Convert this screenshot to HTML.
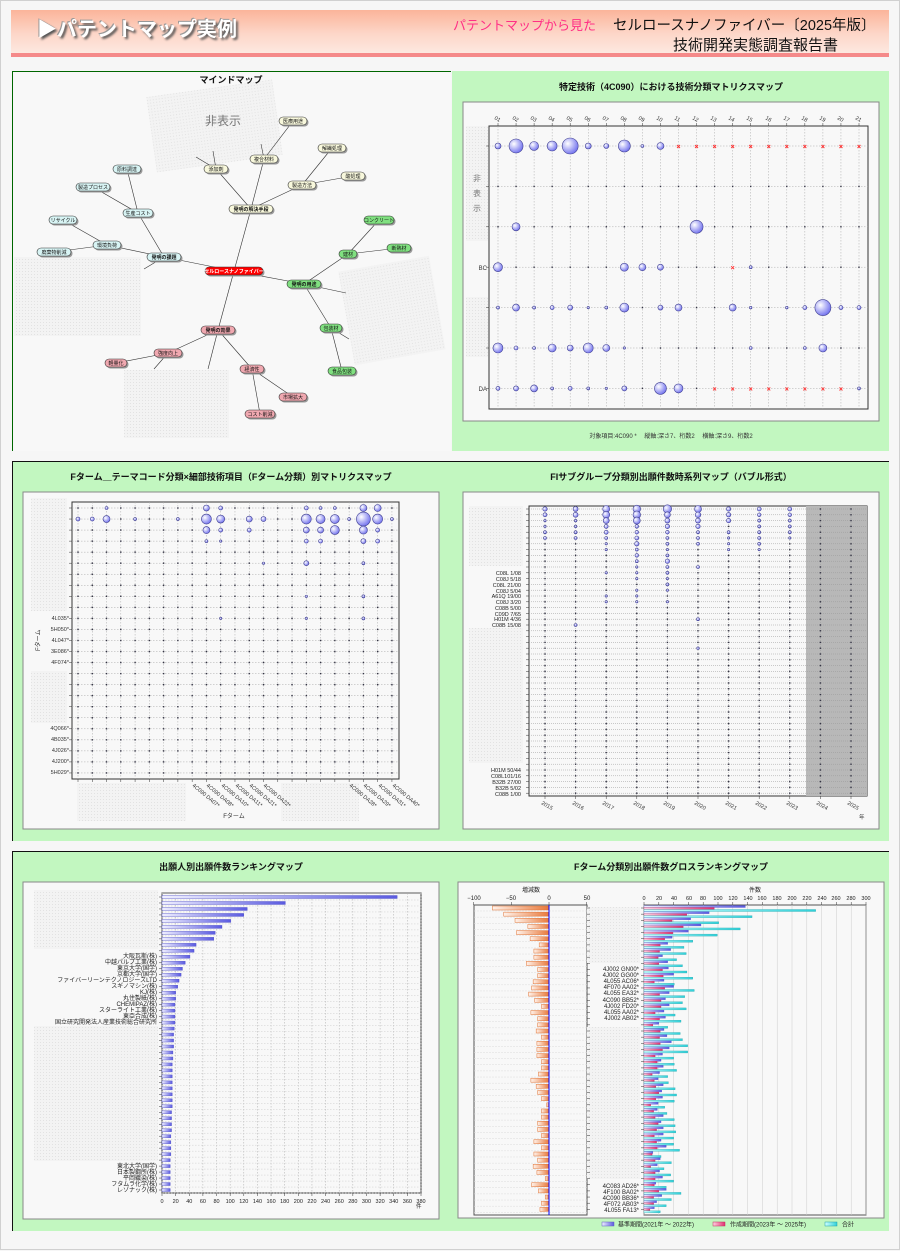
<!DOCTYPE html>
<html><head><meta charset="utf-8">
<style>
*{margin:0;padding:0;box-sizing:border-box}
body{width:900px;height:1250px;background:#f6f6f6;position:relative;overflow:hidden;font-family:"Liberation Sans","Noto Sans CJK JP",sans-serif;border:1px solid #d0d0d0}
.hdr{position:absolute;left:10px;top:9px;width:878px;height:43px;background:linear-gradient(#fbb49a,#fdd6c8 55%,#fde8e0);box-shadow:0 4px 0 #f58a8a}
.p{position:absolute;background:#c2f7c0}
svg{position:absolute;left:0;top:0}
</style></head><body>
<div class="hdr"></div>
<div style="position:absolute;left:36px;top:12px;font-size:20px;font-weight:bold;color:#fff;text-shadow:2px 2px 2px #555,-1px -1px 0 #999;white-space:nowrap">▶パテントマップ実例</div>
<div style="position:absolute;left:452px;top:14px;font-size:13px;color:#ff2f86;white-space:nowrap">パテントマップから見た</div>
<div style="position:absolute;left:612px;top:13px;font-size:14.5px;color:#111;white-space:nowrap">セルロースナノファイバー〔2025年版〕</div>
<div style="position:absolute;left:672px;top:33px;font-size:15px;color:#111;white-space:nowrap">技術開発実態調査報告書</div>

<div class="p" style="left:11px;top:70px;width:439px;height:380px;background:#f8f8f8;border-left:1px solid #006600;border-top:1px solid #006600"></div>
<div class="p" style="left:451px;top:70px;width:437px;height:380px"></div>
<div class="p" style="left:11px;top:460px;width:439px;height:380px;border-left:1px solid #111;border-top:1px solid #111"></div>
<div class="p" style="left:450px;top:460px;width:438px;height:380px;border-top:1px solid #111"></div>
<div class="p" style="left:11px;top:850px;width:439px;height:380px;border-left:1px solid #111;border-top:1px solid #111"></div>
<div class="p" style="left:450px;top:850px;width:438px;height:380px;border-top:1px solid #111"></div>

<svg id="s" width="900" height="1250" viewBox="0 0 900 1250" font-family="Liberation Sans, Noto Sans CJK JP, sans-serif">
<defs>
<radialGradient id="bg" cx="35%" cy="35%" r="70%"><stop offset="0" stop-color="#fff"/><stop offset="1" stop-color="#7070ee"/></radialGradient>
<linearGradient id="bb" x1="0" x2="1"><stop offset="0" stop-color="#f0f0ff"/><stop offset="1" stop-color="#5a5ae0"/></linearGradient>
<linearGradient id="ob" x1="1" x2="0"><stop offset="0" stop-color="#e8783a"/><stop offset="1" stop-color="#fff2ea"/></linearGradient>
<linearGradient id="pb" x1="0" x2="1"><stop offset="0" stop-color="#ffd0e0"/><stop offset="1" stop-color="#e03070"/></linearGradient>
<linearGradient id="cb" x1="0" x2="1"><stop offset="0" stop-color="#d0ffff"/><stop offset="1" stop-color="#30d0d8"/></linearGradient>
<pattern id="ht" width="3" height="3" patternUnits="userSpaceOnUse"><rect width="3" height="3" fill="#f3f3f3"/><rect width="1" height="1" fill="#e2e2e2"/></pattern>
</defs>
<g id="g"></g>
<g font-weight="bold" font-size="9" text-anchor="middle" fill="#111">
<text x="230" y="82">マインドマップ</text>
<text x="670" y="89">特定技術（4C090）における技術分類マトリクスマップ</text>
<text x="230" y="479">Fターム＿テーマコード分類×細部技術項目（Fターム分類）別マトリクスマップ</text>
<text x="670" y="479">FIサブグループ分類別出願件数時系列マップ（バブル形式）</text>
<text x="230" y="869">出願人別出願件数ランキングマップ</text>
<text x="670" y="869">Fターム分類別出願件数グロスランキングマップ</text>
</g>
<text x="670" y="437" font-size="6" text-anchor="middle" fill="#333">対象項目:4C090 *　 縦軸:深さ7、桁数2　 横軸:深さ9、桁数2</text>
<text x="222" y="124" font-size="12" text-anchor="middle" fill="#777">非表示</text>
<g font-size="8" fill="#777" text-anchor="middle"><text x="476" y="180">非</text><text x="476" y="195">表</text><text x="476" y="210">示</text></g>
<g font-size="6" fill="#333" text-anchor="end"><text x="486" y="269">BC</text><text x="486" y="390">DA</text></g>
<g font-size="5.5" fill="#333">
<text transform="translate(493,118) rotate(30)">01</text><text transform="translate(511,118) rotate(30)">02</text><text transform="translate(529,118) rotate(30)">03</text><text transform="translate(547,118) rotate(30)">04</text><text transform="translate(565,118) rotate(30)">05</text><text transform="translate(583,118) rotate(30)">06</text><text transform="translate(601,118) rotate(30)">07</text><text transform="translate(619,118) rotate(30)">08</text><text transform="translate(637,118) rotate(30)">09</text><text transform="translate(655,118) rotate(30)">10</text><text transform="translate(673,118) rotate(30)">11</text><text transform="translate(691,118) rotate(30)">12</text><text transform="translate(709,118) rotate(30)">13</text><text transform="translate(727,118) rotate(30)">14</text><text transform="translate(745,118) rotate(30)">15</text><text transform="translate(764,118) rotate(30)">16</text><text transform="translate(782,118) rotate(30)">17</text><text transform="translate(800,118) rotate(30)">18</text><text transform="translate(818,118) rotate(30)">19</text><text transform="translate(836,118) rotate(30)">20</text><text transform="translate(854,118) rotate(30)">21</text>
</g>
<g font-size="5.5" fill="#333" text-anchor="end">
<text x="68" y="619">4L035*</text><text x="68" y="630">5H050*</text><text x="68" y="641">4L047*</text><text x="68" y="652">3E086*</text><text x="68" y="663">4F074*</text>
<text x="68" y="729">4Q066*</text><text x="68" y="740">4B035*</text><text x="68" y="751">4J026*</text><text x="68" y="762">4J200*</text><text x="68" y="773">5H029*</text>
</g>
<text transform="translate(39,650) rotate(-90)" font-size="6" fill="#333">Fターム</text>
<text x="233" y="817" font-size="6" fill="#333" text-anchor="middle">Fターム</text>
<g font-size="5.5" fill="#333">
<text transform="translate(191,785) rotate(40)">4C090 DA07*</text><text transform="translate(205,785) rotate(40)">4C090 DA08*</text><text transform="translate(220,785) rotate(40)">4C090 DA10*</text><text transform="translate(234,785) rotate(40)">4C090 DA11*</text><text transform="translate(248,785) rotate(40)">4C090 DA21*</text><text transform="translate(262,785) rotate(40)">4C090 DA22*</text>
<text transform="translate(348,785) rotate(40)">4C090 DA28*</text><text transform="translate(362,785) rotate(40)">4C090 DA29*</text><text transform="translate(377,785) rotate(40)">4C090 DA31*</text><text transform="translate(391,785) rotate(40)">4C090 DA40*</text>
</g>
<g font-size="5.5" fill="#222" text-anchor="end">
<text x="520" y="574">C08L  1/08</text><text x="520" y="580">C08J  5/18</text><text x="520" y="586">C08L 21/00</text><text x="520" y="592">C08J  5/04</text><text x="520" y="597">A61Q 19/00</text><text x="520" y="603">C08J  3/20</text><text x="520" y="609">C08B  5/00</text><text x="520" y="615">C09D  7/65</text><text x="520" y="620">H01M  4/36</text><text x="520" y="626">C08B 15/08</text>
<text x="520" y="771">H01M 50/44</text><text x="520" y="777">C08L101/16</text><text x="520" y="783">B32B 27/00</text><text x="520" y="789">B32B  5/02</text><text x="520" y="795">C08B  1/00</text>
</g>
<g font-size="5.5" fill="#333">
<text transform="translate(540,803) rotate(30)">2015</text><text transform="translate(571,803) rotate(30)">2016</text><text transform="translate(601,803) rotate(30)">2017</text><text transform="translate(632,803) rotate(30)">2018</text><text transform="translate(662,803) rotate(30)">2019</text><text transform="translate(693,803) rotate(30)">2020</text><text transform="translate(724,803) rotate(30)">2021</text><text transform="translate(754,803) rotate(30)">2022</text><text transform="translate(785,803) rotate(30)">2023</text><text transform="translate(815,803) rotate(30)">2024</text><text transform="translate(846,803) rotate(30)">2025</text>
<text x="858" y="818">年</text>
</g>
<g font-size="6" fill="#222" text-anchor="end">
<text x="156" y="957">大阪瓦斯(株)</text><text x="156" y="963">中越パルプ工業(株)</text><text x="156" y="969">東京大学(国学)</text><text x="156" y="975">京都大学(国学)</text><text x="156" y="981">ファイバーリーンテクノロジーズLTD</text><text x="156" y="987">スギノマシン(株)</text><text x="156" y="993">KJ(株)</text><text x="156" y="999">丸住製紙(株)</text><text x="156" y="1005">CHEMIPAZ(株)</text><text x="156" y="1011">スターライト工業(株)</text><text x="156" y="1017">東亞合成(株)</text><text x="156" y="1023">国立研究開発法人産業技術総合研究所</text>
<text x="156" y="1167">東北大学(国学)</text><text x="156" y="1173">日本製鋼所(株)</text><text x="156" y="1179">平岡織染(株)</text><text x="156" y="1185">フタムラ化学(株)</text><text x="156" y="1191">レゾナック(株)</text>
</g>
<g font-size="5.5" fill="#222" text-anchor="middle" id="lx"></g>
<text x="415" y="1207" font-size="5.5" fill="#222">件</text>
<text x="530" y="891" font-size="6" fill="#222" text-anchor="middle">増減数</text>
<text x="754" y="891" font-size="6" fill="#222" text-anchor="middle">件数</text>
<g font-size="6" fill="#222" text-anchor="middle">
<text x="473" y="899">−100</text><text x="510" y="899">−50</text><text x="548" y="899">0</text><text x="586" y="899">50</text>
</g>
<g font-size="5.5" fill="#222" text-anchor="middle">
<text x="643" y="899">0</text><text x="658" y="899">20</text><text x="673" y="899">40</text><text x="688" y="899">60</text><text x="702" y="899">80</text><text x="717" y="899">100</text><text x="732" y="899">120</text><text x="747" y="899">140</text><text x="761" y="899">160</text><text x="776" y="899">180</text><text x="791" y="899">200</text><text x="806" y="899">220</text><text x="821" y="899">240</text><text x="835" y="899">260</text><text x="850" y="899">280</text><text x="865" y="899">300</text>
</g>
<g font-size="6" fill="#222" text-anchor="end">
<text x="638" y="970">4J002 GN00*</text><text x="638" y="976">4J002 GG00*</text><text x="638" y="982">4L055 AC06*</text><text x="638" y="988">4F070 AA02*</text><text x="638" y="994">4L055 EA32*</text><text x="638" y="1001">4C090 BB52*</text><text x="638" y="1007">4J002 FD20*</text><text x="638" y="1013">4L055 AA02*</text><text x="638" y="1019">4J002 AB02*</text>
<text x="638" y="1187">4C083 AD26*</text><text x="638" y="1193">4F100 BA02*</text><text x="638" y="1199">4C090 BB36*</text><text x="638" y="1205">4F072 AB03*</text><text x="638" y="1211">4L055 FA13*</text>
</g>
<g font-size="6" fill="#222">
<rect x="601" y="1221" width="12" height="4" fill="url(#bb)" stroke="#6060c0" stroke-width=".5"/><text x="617" y="1225.5">基準期間(2021年 ～ 2022年)</text>
<rect x="712" y="1221" width="12" height="4" fill="url(#pb)" stroke="#c03060" stroke-width=".5"/><text x="729" y="1225.5">作成期間(2023年 ～ 2025年)</text>
<rect x="824" y="1221" width="12" height="4" fill="url(#cb)" stroke="#20a0a8" stroke-width=".5"/><text x="841" y="1225.5">合計</text>
</g>
<g id="mm" font-size="5" text-anchor="middle"></g>
</svg>
<script>
var NS="http://www.w3.org/2000/svg",G=document.getElementById("g");
function E(t,a,p){var e=document.createElementNS(NS,t);for(var k in a)e.setAttribute(k,a[k]);(p||G).appendChild(e);return e}
function R(x,y,w,h,f,s,sw){return E("rect",{x:x,y:y,width:w,height:h,fill:f||"none",stroke:s||"none","stroke-width":sw||1})}
function L(x1,y1,x2,y2,s,d,sw){return E("line",{x1:x1,y1:y1,x2:x2,y2:y2,stroke:s||"#bbb","stroke-width":sw||.5,"stroke-dasharray":d||""})}
function B(x,y,r){if(r<1){R(x-.7,y-.7,1.4,1.4,"#334");return}E("circle",{cx:x,cy:y,r:r,fill:"url(#bg)",stroke:"#404090","stroke-width":.6})}
function X(x,y){L(x-1.5,y-1,x+1.5,y+2,"#f33","",.9);L(x+1.5,y-1,x-1.5,y+2,"#f33","",.9)}

R(150,87,127,76,"url(#ht)").setAttribute("transform","rotate(-8 213 125)");
R(13,256,127,79,"url(#ht)");R(345,262,92,95,"url(#ht)").setAttribute("transform","rotate(-10 391 310)");R(123,369,105,68,"url(#ht)");
var N={c:[233,270,"セルロースナノファイバー","#f00",58,"#fff"],k:[163,256,"発明の課題","#d8f4f4",34],s:[250,208,"発明の解決手段","#f8f8dc",44],y:[303,283,"発明の用途","#80e080",34],e:[217,329,"発明の効果","#f0a8b0",34],
a1:[106,244,"環境負荷","#d8f4f4",28],a2:[137,212,"生産コスト","#d8f4f4",30],a3:[62,219,"リサイクル","#d8f4f4",28],a4:[53,251,"廃棄物削減","#d8f4f4",34],a5:[126,168,"原料調達","#d8f4f4",28],a6:[92,186,"製造プロセス","#d8f4f4",34],
b1:[215,168,"添加剤","#f8f8dc",24],b2:[263,158,"複合材料","#f8f8dc",28],b3:[301,184,"製造方法","#f8f8dc",28],b4:[292,120,"医療用途","#f8f8dc",28],b5:[331,147,"解繊処理","#f8f8dc",28],b6:[352,175,"酸処理","#f8f8dc",24],
c1:[347,253,"建材","#80e080",18],c2:[330,327,"包装材","#80e080",22],c3:[378,219,"コンクリート","#80e080",30],c4:[398,247,"断熱材","#80e080",24],c5:[341,370,"食品包装","#80e080",28],
d1:[167,352,"強度向上","#f0a8b0",28],d2:[251,368,"経済性","#f0a8b0",24],d3:[115,362,"軽量化","#f0a8b0",22],d4:[292,396,"市場拡大","#f0a8b0",28],d5:[259,413,"コスト削減","#f0a8b0",30]};
var ED=[["c","k"],["c","s"],["c","y"],["c","e"],["k","a1"],["k","a2"],["a1","a3"],["a1","a4"],["a2","a5"],["a2","a6"],["s","b1"],["s","b2"],["s","b3"],["b2","b4"],["b3","b5"],["b3","b6"],["y","c1"],["y","c2"],["c1","c3"],["c1","c4"],["c2","c5"],["e","d1"],["e","d2"],["d1","d3"],["d2","d4"],["d2","d5"]];
ED.forEach(function(p){var a=N[p[0]],b=N[p[1]];L(a[0],a[1],b[0],b[1],"#333","",.6)});
[[163,256,143,268],[215,168,195,156],[215,168,212,150],[263,158,260,143],[303,283,345,292],[330,327,348,338],[217,329,207,368],[167,352,153,368]].forEach(function(l){L(l[0],l[1],l[2],l[3],"#333","",.6)});
var MM=document.getElementById("mm");
for(var k in N){var n=N[k],w=n[4],x=n[0]-w/2,y=n[1]-4;
E("rect",{x:x+1.5,y:y+1.5,width:w,height:8,rx:4,fill:"#999"},MM);
E("rect",{x:x,y:y,width:w,height:8,rx:4,fill:n[3],stroke:"#333","stroke-width":.6},MM);
var t=E("text",{x:n[0],y:n[1]+1.8,fill:n[5]||"#111","font-weight":k.length==1?"bold":"normal"},MM);t.textContent=n[2];}

R(462,101,416,319,"#f8f8f8","#888");R(488,125,379,283,"#f8f8f8","#333",1);
R(465,125,22,115,"url(#ht)");R(465,296,22,60,"url(#ht)");
var cx=function(i){return 497+i*18.05},ry=function(j){return 145+j*40.4};
for(var i=0;i<21;i++){L(cx(i),125,cx(i),408,"#aaa","1.5,1.5");L(cx(i),122,cx(i),125,"#333")}
for(var j=0;j<7;j++){L(488,ry(j),867,ry(j),"#aaa","1.5,1.5");L(485,ry(j),488,ry(j),"#333")}
var TR=[[3,7,4.5,5,8,3,2.5,6,1.5,3.5,-1,-1,-1,-1,-1,-1,-1,-1,-1,-1,-1],
[0,0,0,0,0,0,0,0,0,0,0,0,0,0,0,0,0,0,0,0,0],
[0,4,0,0,0,0,0,0,0,0,0,6.5,0,0,0,0,0,0,0,0,0],
[4.5,0,0,0,0,0,0,4,3.5,3,0,0,0,-1,1.5,0,0,0,0,0,0],
[1.5,3.5,1.5,2,2.5,1.2,1.5,4.5,0,2.5,3.5,0,0,3.5,1.3,0,1.3,2,8,2,2],
[5,2,1.5,4,3,5,3.5,1.2,0,0,0,0,0,0,1.5,0,0,1.5,4,0,0],
[2,2.5,3.5,1.5,2,1.5,1.2,2.5,0,6,4.5,0,-1,-1,-1,-1,-1,-1,-1,-1,1.5]];
TR.forEach(function(r,j){r.forEach(function(v,i){if(v<0)X(cx(i),ry(j));else B(cx(i),ry(j),v)})});

R(22,491,416,337,"#f8f8f8","#888");R(71,501,327,277,"#f8f8f8","#333");
R(30,497,36,113,"url(#ht)");R(30,670,36,52,"url(#ht)");R(76,782,109,38,"url(#ht)");R(280,782,78,38,"url(#ht)");
var fx=function(i){return 77+i*14.27},fy=function(j){return 507+j*11.04};
for(var i=0;i<23;i++){L(fx(i),501,fx(i),778,"#aaa","1.5,1.5");L(fx(i),778,fx(i),781,"#333")}
for(var j=0;j<25;j++){L(71,fy(j),398,fy(j),"#aaa","1.5,1.5");L(68,fy(j),71,fy(j),"#333")}
var FB={"0":{2:1.5,9:3,10:2,16:2,17:1.5,18:1.5,20:3.5,21:3.5},"1":{0:2,1:2,2:3.5,4:1.5,7:1.5,9:5,10:4,12:3,13:2.5,16:5,17:4.5,18:4.5,19:1.5,20:7,21:5,22:1.5},"2":{9:3.5,10:2,12:2,16:3,17:3,18:4.5,20:4,21:2},"3":{9:1.5,10:1.2,16:2,17:2,20:2.5,21:2},"5":{13:1.2,16:2.5,20:1.5},"8":{16:1.2,20:1.5},"10":{10:1.2,16:1.2,20:1.5}};
for(var j=0;j<25;j++)for(var i=0;i<23;i++){var v=(FB[j]&&FB[j][i])||0;B(fx(i),fy(j),v)}

R(462,491,416,337,"#f8f8f8","#888");R(528,505,338,290,"#f8f8f8","#333");
R(805,505,61,290,"#b8b8b8");
R(468,505,54,60,"url(#ht)");R(468,627,54,135,"url(#ht)");
var yx=function(k){return 544+k*30.6},yy=function(j){return 508+j*5.8};
for(var k=0;k<11;k++){L(yx(k),505,yx(k),795,"#999","1,1");L(yx(k),795,yx(k),798,"#333")}
for(var j=0;j<50;j++){L(528,yy(j),866,yy(j),"#999","1,1");L(525,yy(j),528,yy(j),"#333")}
var YB=[[2.2,2.5,3.5,3.8,4.2,3.5,2.2,2,2],[2,2.5,3.5,3.8,3,2.8,2.2,1.8,1.8],[1.2,1.3,3,3.5,2.5,2.5,2.2,1.5,1.5],[1.2,1.3,2,1.8,2.2,2.2,1.5,1.5,1.5],[1.5,1.5,2,1.8,1.8,1.5,1.5,1.5,1.5],[1.5,1.5,1.5,2,1.5,1.5,1.2,1.5,1.2],[0,0,1.2,2.2,1.5,1.5,1.2,1.5,0],[0,0,1.2,1.5,1.2,0,1.2,1.2,0],[0,0,0,1.8,1.5,0,0,0,0],[0,0,0,1.5,2.2,0,0,0,0],[0,0,0,1.2,1.5,1.5,0,0,0],[0,0,1.2,1.2,1.5,0,0,0,0],[0,0,0,1.2,1.2,0,0,0,0],[0,0,0,0,1.5,0,0,0,0],[0,0,0,1.2,1.2,0,0,0,0],[0,0,1.2,1.2,0,0,0,0,0],[0,0,1.2,1.2,1.2,0,0,0,0]];
for(var j=0;j<50;j++)for(var k=0;k<11;k++){var v=(YB[j]&&YB[j][k])||0;if(j==3&&k==6)v=0;B(yx(k),yy(j),v)}
B(yx(5),yy(19),1.5);B(yx(1),yy(20),1.5);B(yx(5),yy(24),1.3);

R(22,881,416,337,"#f8f8f8","#888");R(161,892,259,300,"#f8f8f8","#333");L(161,892,420,892,"#aaa","",2);
R(33,889,124,59,"url(#ht)");R(33,1025,124,135,"url(#ht)");
var LX=document.getElementById("lx");
for(var v=0;v<=380;v+=20){var x=161+v*0.6816;L(x,892,x,1192,"#aaa","1.5,1.5");L(x,1192,x,1195,"#333");var t=E("text",{x:x,y:1202},LX);t.textContent=v}
var AV=[345,181,125,120,101,88,78,76,50,47,41,34,30,28,25,23,20,20,19,19,19,19,18,17,17,17,16,16,15,15,15,15,15,15,15,15,14,14,14,14,13,13,13,13,12,12,12,12,12,12];
AV.forEach(function(v,i){var y=896+i*5.98;L(161,y+3,420,y+3,"#ccc","1.5,1.5");L(158,y,161,y,"#333");R(161,y-1.5,v*0.6816,3,"url(#bb)","#5050c8",.4)});

R(457,881,426,336,"#f8f8f8","#888");
R(473,904,113,310,"#f8f8f8","#555");R(643,904,222,310,"#f8f8f8","#555");
R(586,906,53,56,"url(#ht)");R(586,1026,53,152,"url(#ht)");
[-100,-50,0,50].forEach(function(v){var x=548+v*0.755;L(x,901,x,904,"#333")});
for(var v=0;v<=300;v+=20){var x=643+v*0.74;L(x,904,x,1214,"#ccc","");L(x,901,x,904,"#333")}
var OV=[-75,-60,-45,-28,-43,-25,-13,-20,-20,-30,-15,-15,-21,-23,-27,-19,-10,-24,-15,-15,-17,-10,-16,-16,-16,-10,-10,-14,-24,-17,-15,-10,-3,-10,-10,-15,-15,-10,-20,-10,-20,-15,-21,-16,-5,-23,-14,-5,-10,-12];
var TV=[232,146,101,130,99,66,54,57,44,52,58,66,41,68,55,52,57,42,50,32,49,52,59,59,40,41,44,32,33,42,44,41,28,31,41,42,43,40,40,48,23,37,27,36,40,30,50,37,30,22];
for(var j=0;j<50;j++){var y=907+j*6.15;
L(473,y+3,586,y+3,"#ddd","2,1");L(586,y,589,y,"#333");L(640,y,643,y,"#333");
var o=OV[j]*0.755;R(548+o,y-2,-o,4,"url(#ob)","#e07030",.5);
var t=TV[j],b=Math.round(t*0.6+((j*7)%5)-2),p=t-b;
R(643,y-2.5,b*0.74,2,"url(#bb)","#5050c8",.3);R(643,y-.5,p*0.74,2,"url(#pb)","#c03060",.3);R(643,y+1.5,t*0.74,2,"url(#cb)","#20a0a8",.3);}
L(548,904,548,1214,"#00f","",1);
</script>
</body></html>
